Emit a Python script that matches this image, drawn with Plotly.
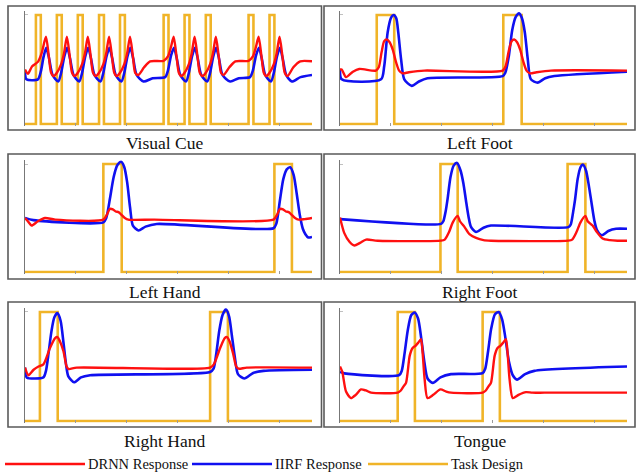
import plotly.graph_objects as go

# ---------------------------------------------------------------------------
# Data: time on a 0-100 scale, signals normalised so the task design spans 0-1
# ---------------------------------------------------------------------------
panel_titles = ["Visual Cue", "Left Foot", "Left Hand", "Right Foot", "Right Hand", "Tongue"]

# Task design: block (onset, offset) pairs per condition
task_blocks = {
    "Visual Cue": [(3.8, 5.5), (11.1, 12.8), (18.4, 20.1), (25.8, 27.5), (33.1, 34.8),
                   (48.3, 50.0), (55.6, 57.3), (63.0, 64.7), (77.9, 79.6), (85.2, 86.9)],
    "Left Foot": [(12.8, 18.9), (56.9, 63.3)],
    "Left Hand": [(27.3, 33.7), (86.9, 93.0)],
    "Right Foot": [(35.0, 41.0), (79.3, 85.5)],
    "Right Hand": [(5.2, 11.4), (64.5, 70.7)],
    "Tongue": [(20.1, 26.1), (49.7, 55.7)],
}

# DRNN response (time, value)
drnn_t = {
    "Visual Cue": [0, 1.0, 2.5, 4.5, 5.8, 7.3, 8.3, 9.1, 10.0,
                   11.1, 12.6, 13.6, 14.6, 15.6, 16.4, 17.3,
                   18.4, 19.9, 20.9, 21.9, 22.9, 23.7, 24.7,
                   25.8, 27.3, 28.3, 29.3, 30.3, 31.1, 32.0,
                   33.1, 34.6, 35.6, 36.6, 37.6, 38.4, 39.5, 41.5, 43.6, 48.3,
                   49.8, 50.8, 51.8, 52.8, 53.6, 54.5,
                   55.6, 57.1, 58.1, 59.1, 60.1, 60.9, 61.9,
                   63.0, 64.5, 65.5, 66.5, 67.5, 68.3, 69.2, 71.2, 73.3, 77.9,
                   79.4, 80.4, 81.4, 82.4, 83.2, 84.1,
                   85.2, 86.7, 87.7, 88.7, 89.7, 90.5, 91.5, 93.5, 95.9, 100],
    "Left Foot": [0, 0.6, 2.1, 4.5, 6.7, 12.5, 13.5, 14.5, 15.4, 16.3, 17.3, 18.4, 19.5, 20.6,
                  21.8, 24.0, 29.4, 56.7, 57.7, 58.8, 59.8, 60.7, 61.7, 62.8, 63.9, 65.0,
                  66.2, 68.5, 73.5, 100],
    "Left Hand": [0, 1.0, 2.3, 4.5, 7.0, 10.5, 27.3, 28.5, 29.6, 30.6, 31.6, 32.6, 33.6,
                  34.8, 36.0, 45.0, 86.6, 87.8, 88.9, 89.9, 90.9, 91.9, 92.9, 94.1, 95.3,
                  97.5, 100],
    "Right Foot": [0, 1.5, 3.3, 5.0, 7.0, 9.1, 13.1, 35.2, 36.5, 38.0, 39.3, 41.0, 41.8,
                   43.3, 45.1, 47.4, 50.0, 52.6, 79.6, 80.9, 82.4, 83.8, 85.5, 86.3, 88.0,
                   89.5, 91.5, 94.0, 96.7, 100],
    "Right Hand": [0, 1.2, 3.0, 4.7, 6.4, 8.7, 10.5, 11.3, 12.2, 13.4, 14.5, 15.2, 18.0,
                   64.5, 65.8, 68.0, 69.6, 70.4, 71.3, 72.5, 73.6, 74.4, 77.3, 100],
    "Tongue": [0, 0.8, 2.1, 3.8, 5.5, 7.3, 9.0, 10.8, 20.1, 21.2, 22.2, 23.0, 24.3, 25.3,
               26.3, 27.3, 28.2, 28.8, 29.5, 30.5, 32.5, 35.0, 37.0, 38.7,
               49.7, 50.8, 51.8, 52.6, 53.9, 54.9, 55.9, 56.9, 57.8, 58.4, 59.1, 60.2,
               62.2, 64.8, 67.0, 71.2, 100],
}
drnn_v = {
    "Visual Cue": [0.50, 0.46, 0.53, 0.57, 0.65, 0.80, 0.62, 0.47, 0.44,
                   0.47, 0.55, 0.65, 0.80, 0.62, 0.47, 0.44,
                   0.47, 0.55, 0.65, 0.80, 0.62, 0.47, 0.44,
                   0.47, 0.55, 0.65, 0.80, 0.62, 0.47, 0.44,
                   0.47, 0.55, 0.65, 0.80, 0.62, 0.47, 0.45, 0.52, 0.575, 0.58,
                   0.62, 0.70, 0.80, 0.62, 0.47, 0.44,
                   0.47, 0.55, 0.65, 0.80, 0.62, 0.47, 0.44,
                   0.47, 0.55, 0.65, 0.80, 0.62, 0.47, 0.45, 0.52, 0.575, 0.58,
                   0.62, 0.70, 0.80, 0.62, 0.47, 0.44,
                   0.47, 0.55, 0.65, 0.80, 0.62, 0.47, 0.44, 0.52, 0.575, 0.575],
    "Left Foot": [0.50, 0.50, 0.43, 0.48, 0.505, 0.49, 0.52, 0.66, 0.76, 0.775, 0.75, 0.68,
                  0.57, 0.49, 0.465, 0.475, 0.49, 0.49, 0.53, 0.67, 0.76, 0.775, 0.75,
                  0.68, 0.57, 0.49, 0.465, 0.475, 0.49, 0.49],
    "Left Hand": [0.50, 0.47, 0.43, 0.47, 0.50, 0.485, 0.485, 0.53, 0.585, 0.58, 0.56,
                  0.555, 0.53, 0.50, 0.485, 0.485, 0.485, 0.53, 0.585, 0.58, 0.56, 0.555,
                  0.53, 0.50, 0.485, 0.49, 0.50],
    "Right Foot": [0.505, 0.36, 0.28, 0.245, 0.27, 0.30, 0.29, 0.29, 0.30, 0.37, 0.46, 0.52,
                   0.47, 0.42, 0.35, 0.315, 0.295, 0.29, 0.29, 0.30, 0.37, 0.46, 0.52,
                   0.47, 0.43, 0.37, 0.31, 0.295, 0.29, 0.29],
    "Right Hand": [0.49, 0.42, 0.47, 0.50, 0.52, 0.67, 0.76, 0.77, 0.73, 0.64, 0.50, 0.477,
                   0.49, 0.49, 0.52, 0.67, 0.76, 0.77, 0.73, 0.62, 0.50, 0.48, 0.49, 0.49],
    "Tongue": [0.50, 0.45, 0.27, 0.21, 0.24, 0.29, 0.28, 0.26, 0.26, 0.28, 0.32, 0.35,
               0.60, 0.67, 0.69, 0.72, 0.75, 0.62, 0.38, 0.21, 0.24, 0.29, 0.27, 0.26,
               0.26, 0.28, 0.32, 0.35, 0.60, 0.67, 0.69, 0.72, 0.75, 0.62, 0.38, 0.21,
               0.24, 0.265, 0.26, 0.26, 0.26],
}

# IIRF response (time, value)
iirf_t = {
    "Visual Cue": [0, 0.5, 4.5, 5.5, 6.5, 7.4, 8.4, 9.6, 11.6,
                   12.6, 13.7, 14.7, 15.7, 16.9, 18.9,
                   19.9, 21.0, 22.0, 23.0, 24.2, 26.3,
                   27.3, 28.4, 29.4, 30.4, 31.6, 33.6,
                   34.6, 35.7, 36.7, 37.7, 38.9, 41.3, 44.5, 48.8,
                   49.8, 50.9, 51.9, 52.9, 54.1, 56.1,
                   57.1, 58.2, 59.2, 60.2, 61.4, 63.5,
                   64.5, 65.6, 66.6, 67.6, 68.8, 71.5, 74.5, 78.4,
                   79.4, 80.5, 81.5, 82.5, 83.7, 85.7,
                   86.7, 87.8, 88.8, 89.8, 91.0, 93.0, 96.0, 100],
    "Left Foot": [0, 0.6, 14.3, 15.4, 16.6, 17.8, 18.7, 19.6, 20.3, 21.3, 22.4, 25.0, 27.5,
                  30.5, 56.7, 57.6, 58.8, 60.0, 61.2, 62.4, 63.4, 64.4, 65.4, 66.5, 68.9,
                  71.5, 74.7, 100],
    "Left Hand": [0, 2.9, 27.3, 28.3, 29.6, 30.9, 32.2, 33.5, 34.6, 35.6, 36.6, 37.6, 39.5,
                  42.0, 45.9, 86.6, 87.6, 88.8, 90.0, 91.2, 92.4, 93.6, 94.7, 95.8, 96.8,
                  97.7, 98.7, 100],
    "Right Foot": [0, 35.2, 36.0, 36.8, 37.5, 38.5, 39.6, 40.8, 42.0, 43.0, 43.9, 44.8,
                   45.6, 47.4, 50.0, 52.6, 79.6, 80.4, 81.2, 81.9, 82.8, 83.8, 84.6, 85.7,
                   86.7, 87.7, 88.6, 89.5, 91.2, 93.5, 96.2, 100],
    "Right Hand": [0, 0.6, 6.4, 7.3, 8.2, 9.2, 10.2, 11.3, 12.4, 13.4, 14.3, 15.1, 17.1,
                   19.5, 22.7, 64.5, 65.7, 66.7, 67.7, 68.8, 70.0, 71.1, 72.1, 73.2, 74.2,
                   76.4, 79.5, 83.1, 100],
    "Tongue": [0, 1.5, 20.6, 21.5, 22.5, 23.6, 24.8, 26.0, 27.2, 28.3, 29.4, 30.5, 32.3,
               35.0, 38.7, 49.7, 50.6, 51.6, 52.7, 54.0, 55.3, 56.5, 57.7, 58.9, 60.2,
               61.7, 64.5, 67.7, 100],
}
iirf_v = {
    "Visual Cue": [0.48, 0.41, 0.41, 0.48, 0.62, 0.70, 0.60, 0.45, 0.39,
                   0.47, 0.62, 0.70, 0.60, 0.45, 0.39,
                   0.47, 0.62, 0.70, 0.60, 0.45, 0.39,
                   0.47, 0.62, 0.70, 0.60, 0.45, 0.39,
                   0.47, 0.62, 0.70, 0.60, 0.45, 0.39, 0.42, 0.43,
                   0.49, 0.63, 0.70, 0.60, 0.45, 0.39,
                   0.47, 0.62, 0.70, 0.60, 0.45, 0.39,
                   0.47, 0.62, 0.70, 0.60, 0.45, 0.39, 0.42, 0.43,
                   0.49, 0.63, 0.70, 0.60, 0.45, 0.39,
                   0.47, 0.62, 0.70, 0.60, 0.45, 0.39, 0.43, 0.45],
    "Left Foot": [0.50, 0.41, 0.41, 0.53, 0.84, 0.975, 1.00, 0.97, 0.84, 0.59, 0.41, 0.35,
                  0.39, 0.42, 0.44, 0.47, 0.62, 0.86, 0.98, 1.015, 0.97, 0.84, 0.60, 0.41,
                  0.38, 0.42, 0.44, 0.48],
    "Left Hand": [0.50, 0.48, 0.46, 0.50, 0.68, 0.88, 0.99, 1.02, 0.97, 0.83, 0.60, 0.43,
                  0.385, 0.42, 0.445, 0.405, 0.45, 0.66, 0.86, 0.95, 0.97, 0.90, 0.72, 0.52,
                  0.40, 0.35, 0.32, 0.325],
    "Right Foot": [0.49, 0.446, 0.47, 0.56, 0.68, 0.88, 0.985, 1.01, 0.94, 0.82, 0.66, 0.51,
                   0.42, 0.37, 0.41, 0.43, 0.415, 0.44, 0.55, 0.67, 0.86, 0.97, 0.995, 0.94,
                   0.80, 0.63, 0.48, 0.39, 0.34, 0.38, 0.40, 0.40],
    "Right Hand": [0.49, 0.40, 0.40, 0.46, 0.62, 0.82, 0.95, 0.99, 0.92, 0.72, 0.52, 0.41,
                   0.355, 0.40, 0.42, 0.45, 0.48, 0.63, 0.83, 0.97, 1.025, 0.96, 0.78, 0.57,
                   0.43, 0.39, 0.44, 0.46, 0.47],
    "Tongue": [0.45, 0.437, 0.42, 0.46, 0.62, 0.83, 0.97, 0.995, 0.94, 0.76, 0.54, 0.39,
               0.35, 0.40, 0.43, 0.44, 0.48, 0.64, 0.85, 0.98, 1.00, 0.93, 0.75, 0.54,
               0.42, 0.38, 0.43, 0.46, 0.50],
}

# ---------------------------------------------------------------------------
# Styling
# ---------------------------------------------------------------------------
RED = "#ff1010"
BLUE = "#1010f0"
ORANGE = "#f0b428"
BOX = "#5a5a5a"
SERIF = "Liberation Serif"
W, H = 636, 475

def px_x(p):
    return p / W

def px_y(p):
    return 1 - p / H

# pixel frames for the six panels: (left, right) columns, (top, bottom) rows
col_plot = [(25, 312), (340, 627)]
col_box = [(8, 321.5), (324, 635)]
rows = [  # (value-1 pixel, value-0 pixel, box top, box bottom, title y)
    (15, 124, 6, 130, 143),
    (164, 272, 154, 279, 292),
    (312, 421, 302, 427, 441),
]
Y_LO, Y_HI = -0.015, 1.035

fig = go.Figure()
layout_axes = {}
shapes = []
annotations = []

for i, name in enumerate(panel_titles):
    r, c = divmod(i, 2)
    top1, bot0, btop, bbot, ty = rows[r]
    unit = bot0 - top1
    dom_top = top1 - (Y_HI - 1) * unit
    dom_bot = bot0 - Y_LO * unit
    xl, xr = col_plot[c]
    ax = "" if i == 0 else str(i + 1)

    # task design trace
    tx, ty_vals = [0], [0]
    for on, off in task_blocks[name]:
        tx += [on, on, off, off]
        ty_vals += [0, 1, 1, 0]
    tx.append(100)
    ty_vals.append(0)

    fig.add_trace(go.Scatter(x=tx, y=ty_vals, mode="lines",
                             line=dict(color=ORANGE, width=2.6),
                             xaxis="x" + ax, yaxis="y" + ax, showlegend=False))
    fig.add_trace(go.Scatter(x=iirf_t[name], y=iirf_v[name], mode="lines",
                             line=dict(color=BLUE, width=2.6, shape="spline", smoothing=0.7),
                             xaxis="x" + ax, yaxis="y" + ax, showlegend=False))
    fig.add_trace(go.Scatter(x=drnn_t[name], y=drnn_v[name], mode="lines",
                             line=dict(color=RED, width=2.4, shape="spline", smoothing=0.7),
                             xaxis="x" + ax, yaxis="y" + ax, showlegend=False))

    layout_axes["xaxis" + ax] = dict(
        domain=[px_x(xl), px_x(xr)], range=[0, 100], anchor="y" + ax,
        showgrid=False, zeroline=False, showline=False, showticklabels=False,
        ticks="inside", ticklen=3, tickcolor="#9a9a9a", tick0=0, dtick=17.7,
    )
    layout_axes["yaxis" + ax] = dict(
        domain=[px_y(dom_bot), px_y(dom_top)], range=[Y_LO, Y_HI], anchor="x" + ax,
        showgrid=False, zeroline=False, showline=True, linecolor="#777777", linewidth=1,
        showticklabels=False, ticks="inside", ticklen=3, tickcolor="#c0c0c0",
        tickvals=[1],
    )

    bl, br = col_box[c]
    shapes.append(dict(type="rect", xref="paper", yref="paper",
                       x0=px_x(bl), x1=px_x(br), y0=px_y(bbot), y1=px_y(btop),
                       line=dict(color=BOX, width=1.6)))
    annotations.append(dict(text=name, xref="paper", yref="paper",
                            x=px_x((bl + br) / 2), y=px_y(ty),
                            xanchor="center", yanchor="middle", showarrow=False,
                            font=dict(family=SERIF, size=17.5, color="#111111")))

# Legend drawn along the bottom
legend_items = [("DRNN Response", RED, 5, 85), ("IIRF Response", BLUE, 192, 272),
                ("Task Design", ORANGE, 368, 448)]
LEG_Y = 464
for label, color, x0, x1 in legend_items:
    shapes.append(dict(type="line", xref="paper", yref="paper",
                       x0=px_x(x0), x1=px_x(x1), y0=px_y(LEG_Y), y1=px_y(LEG_Y),
                       line=dict(color=color, width=2.6)))
    annotations.append(dict(text=label, xref="paper", yref="paper",
                            x=px_x(x1 + 1), y=px_y(LEG_Y), xanchor="left", yanchor="middle",
                            showarrow=False,
                            font=dict(family=SERIF, size=14.5, color="#111111")))

fig.update_layout(
    width=W, height=H, margin=dict(l=0, r=0, t=0, b=0),
    paper_bgcolor="white", plot_bgcolor="white",
    shapes=shapes, annotations=annotations, showlegend=False,
    **layout_axes,
)

fig.write_html("out.html", config={"displayModeBar": False})
